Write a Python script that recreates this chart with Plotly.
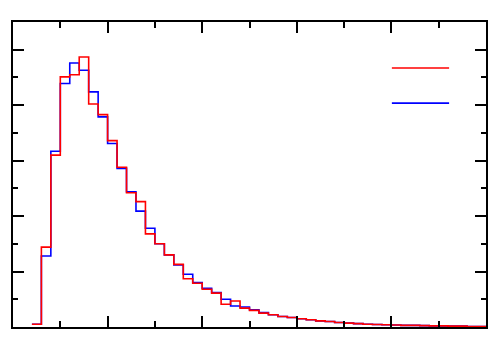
import numpy as np
import plotly.graph_objects as go

# bin left edges (bin width 0.1)
bin_left = np.round(np.arange(0.2, 5.0, 0.1), 1)

red_vals = [0.05, 1.44, 3.10, 4.51, 4.55, 4.87, 4.02, 3.83, 3.36, 2.88,
            2.42, 2.26, 1.68, 1.50, 1.30, 1.13, 0.87, 0.79, 0.68, 0.61,
            0.41, 0.47, 0.34, 0.30, 0.25, 0.22, 0.19, 0.17, 0.15, 0.13,
            0.11, 0.10, 0.08, 0.07, 0.06, 0.05, 0.045, 0.04, 0.035, 0.03,
            0.03, 0.025, 0.02, 0.02, 0.015, 0.015, 0.01, 0.01]
blue_vals = [0.05, 1.28, 3.17, 4.39, 4.76, 4.63, 4.24, 3.79, 3.31, 2.86,
             2.44, 2.09, 1.78, 1.50, 1.30, 1.12, 0.95, 0.80, 0.70, 0.62,
             0.50, 0.38, 0.36, 0.31, 0.26, 0.22, 0.19, 0.17, 0.15, 0.13,
             0.11, 0.10, 0.08, 0.07, 0.06, 0.05, 0.045, 0.04, 0.035, 0.03,
             0.03, 0.025, 0.02, 0.02, 0.015, 0.015, 0.01, 0.01]


def steps(edges, vals):
    # edges plus final right edge, repeat last value so 'hv' closes the last bin
    x = list(edges) + [round(edges[-1] + 0.1, 1)]
    y = list(vals) + [vals[-1]]
    return x, y


fig = go.Figure()

for vals, color in [(blue_vals, 'blue'), (red_vals, 'red')]:
    x, y = steps(bin_left, vals)
    fig.add_trace(go.Scatter(
        x=x, y=y, mode='lines', line_shape='hv',
        line=dict(color=color, width=1.6), showlegend=False
    ))

# legend-like line samples (no labels in the original)
for ypos, color in [(0.849, 'red'), (0.734, 'blue')]:
    fig.add_shape(type='line', xref='paper', yref='paper',
                  x0=0.801, x1=0.922, y0=ypos, y1=ypos,
                  line=dict(color=color, width=1.6))

axis_style = dict(
    showline=True, linecolor='black', linewidth=2, mirror='ticks',
    ticks='inside', ticklen=11, tickwidth=2, tickcolor='black',
    showticklabels=False, showgrid=False, zeroline=False,
)

fig.update_layout(
    width=500, height=350,
    margin=dict(l=13, r=14, t=22, b=23),
    plot_bgcolor='white', paper_bgcolor='white',
    xaxis=dict(range=[0, 5], dtick=1, tick0=0,
               minor=dict(ticks='inside', ticklen=6, tickwidth=2,
                          tickcolor='black', dtick=0.5),
               **axis_style),
    yaxis=dict(range=[0, 5.5], dtick=1, tick0=0,
               minor=dict(ticks='inside', ticklen=5, tickwidth=2,
                          tickcolor='black', dtick=0.5),
               **axis_style),
)

# drop the default page margin so the figure sits at the window origin
fig.write_html("out.html", config={'displayModeBar': False},
               post_script="document.body.style.margin='0';")
